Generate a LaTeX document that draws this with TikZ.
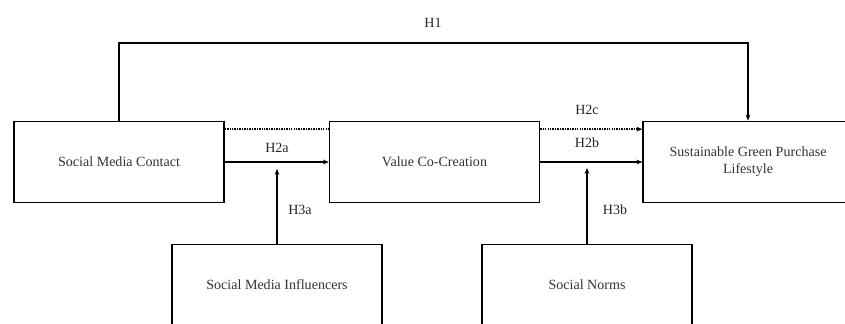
\documentclass[tikz,border=0pt]{standalone}
\usepackage{fontspec}
\setmainfont{Liberation Serif}
\usetikzlibrary{arrows.meta}

\tikzset{
  varbox/.style={draw, line width=1.1pt, minimum width=6.3cm, minimum height=2.45cm,
    align=center, text=black!80, font=\fontsize{12}{14.5}\selectfont},
  hlabel/.style={text=black!85, font=\fontsize{12}{14}\selectfont},
  link/.style={line width=1.1pt, -{Stealth[length=5pt,width=4pt]}},
  dottedlink/.style={line width=1.3pt, dash pattern=on 1.2pt off 0.9pt}
}

\begin{document}
\begin{tikzpicture}[x=0.03cm,y=-0.03cm]
\useasboundingbox (0,0) rectangle (845,323);

% Boxes
\node[varbox] (smc) at (119,162) {Social Media Contact};
\node[varbox] (vcc) at (434.5,162) {Value Co-Creation};
\node[varbox] (sgp) at (748,162) {Sustainable Green Purchase\\Lifestyle};
\node[varbox] (smi) at (277,285) {Social Media Influencers};
\node[varbox] (sn) at (587,285) {Social Norms};

% Helper points
\coordinate (top) at (0,43);
\coordinate (m1) at (277,169);
\coordinate (m2) at (587,168);

% H1
\draw[link] (smc.north) -- (smc.north |- top) -| (sgp.north);
\node[hlabel] (h1) at (433,23) {H1};

% H2a and dotted line
\draw[dottedlink] ([yshift=-0.26cm]smc.north east) -- ([yshift=-0.26cm]vcc.north west);
\draw[link] (smc) -- (vcc);
\node[hlabel] (h2a) at (277,148) {H2a};

% H2b and H2c
\draw[dottedlink, -{Stealth[length=5pt,width=4pt]}] ([yshift=-0.26cm]vcc.north east) -- ([yshift=-0.26cm]sgp.north west);
\node[hlabel] (h2c) at (587,110) {H2c};
\draw[link] (vcc) -- (sgp);
\node[hlabel] (h2b) at (587,143) {H2b};

% Moderators
\draw[link] (smi) -- (m1);
\node[hlabel] (h3a) at (300,210) {H3a};
\draw[link] (sn) -- (m2);
\node[hlabel] (h3b) at (615,210) {H3b};

\end{tikzpicture}
\end{document}
